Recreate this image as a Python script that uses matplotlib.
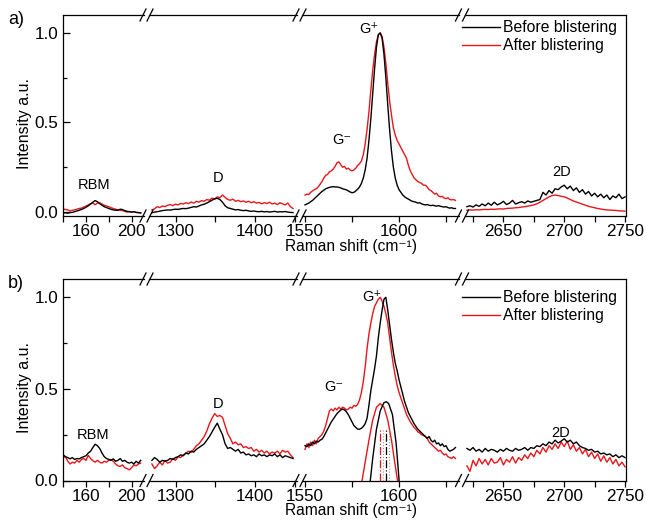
import numpy as np
import matplotlib
matplotlib.use('Agg')
import matplotlib.pyplot as plt
from matplotlib.ticker import MultipleLocator
from matplotlib.lines import Line2D

plt.rcParams['font.family'] = ['Liberation Sans', 'DejaVu Sans']

BLACK = '#000000'
RED = '#e8161b'

# x grids of the four axis segments (cm-1)
x_rbm = np.arange(140, 209, 2)
x_d = np.linspace(1270, 1448, 55)
x_g = np.arange(1550, 1631, 1)
x_2d = np.arange(2620, 2751, 2.5)

# ---- panel a) ----
before_a_rbm = [-0.005, -0.004, -0.006, -0.003, -0.002, 0.002, 0.006, 0.01, 0.015, 0.02,
                0.027, 0.035, 0.045, 0.055, 0.064, 0.058, 0.047, 0.038, 0.03, 0.025,
                0.02, 0.015, 0.012, 0.01, 0.01, 0.016, 0.014, 0.008, 0.004, 0.002,
                0.0, 0.002, -0.002, -0.003, -0.005]
after_a_rbm = [0.018, 0.014, 0.012, 0.006, 0.01, 0.012, 0.016, 0.02, 0.022, 0.028,
               0.033, 0.04, 0.046, 0.05, 0.041, 0.05, 0.052, 0.045, 0.038, 0.034,
               0.03, 0.024, 0.02, 0.016, 0.012, 0.01, 0.008, 0.004, 0.0, 0.003,
               0.0, 0.002, -0.002, -0.003, -0.004]

before_a_d = [-0.004, 0.0, 0.002, 0.005, 0.008, 0.01, 0.012, 0.011, 0.014, 0.016,
              0.015, 0.018, 0.02, 0.019, 0.022, 0.026, 0.03, 0.028, 0.034, 0.04,
              0.044, 0.05, 0.058, 0.066, 0.074, 0.077, 0.07, 0.055, 0.035, 0.024,
              0.02, 0.016, 0.012, 0.014, 0.01, 0.008, 0.01, 0.006, 0.004, 0.006,
              0.003, 0.002, 0.004, 0.001, 0.003, 0.0, 0.002, 0.004, 0.0, 0.002,
              0.001, 0.003, 0.0, -0.002, -0.003]
after_a_d = [0.012, 0.018, 0.03, 0.025, 0.034, 0.03, 0.038, 0.042, 0.036, 0.044,
             0.04, 0.048, 0.045, 0.052, 0.047, 0.056, 0.05, 0.06, 0.055, 0.064,
             0.06, 0.07, 0.066, 0.078, 0.072, 0.085, 0.08, 0.095, 0.082, 0.07,
             0.066, 0.072, 0.06, 0.065, 0.058, 0.062, 0.055, 0.06, 0.052, 0.058,
             0.05, 0.054, 0.046, 0.052, 0.048, 0.055, 0.045, 0.05, 0.042, 0.052,
             0.046, 0.04, 0.05, 0.03, 0.02]

before_a_g = [0.04, 0.045, 0.05, 0.058, 0.065, 0.075, 0.085, 0.095, 0.105, 0.115,
              0.122, 0.13, 0.134, 0.138, 0.14, 0.142, 0.14, 0.14, 0.138, 0.135,
              0.13, 0.127, 0.124, 0.118, 0.112, 0.108, 0.11, 0.118, 0.128, 0.14,
              0.16, 0.19, 0.235, 0.3, 0.4, 0.52, 0.66, 0.8, 0.92, 0.99,
              1.0, 0.97, 0.88, 0.75, 0.6, 0.46, 0.34, 0.25, 0.19, 0.15,
              0.125, 0.11, 0.095, 0.085, 0.078, 0.072, 0.066, 0.06, 0.058, 0.055,
              0.05, 0.052, 0.046, 0.042, 0.04, 0.042, 0.038, 0.036, 0.038, 0.035,
              0.033, 0.036, 0.032, 0.03, 0.028, 0.03, 0.025, 0.022, 0.024, 0.02,
              0.02]
after_a_g = [0.095, 0.1, 0.098, 0.11, 0.118, 0.125, 0.13, 0.14, 0.155, 0.17,
             0.19, 0.205, 0.21, 0.225, 0.23, 0.24, 0.255, 0.275, 0.28, 0.265,
             0.25, 0.255, 0.24, 0.245, 0.235, 0.23, 0.235, 0.245, 0.26, 0.27,
             0.285, 0.32, 0.38, 0.46, 0.56, 0.68, 0.79, 0.88, 0.95, 0.99,
             1.0, 0.98, 0.92, 0.83, 0.72, 0.62, 0.54, 0.47, 0.43, 0.4,
             0.38, 0.36, 0.34, 0.32, 0.3, 0.26, 0.23, 0.21, 0.19, 0.18,
             0.17, 0.165, 0.16, 0.15, 0.15, 0.14, 0.125, 0.12, 0.11, 0.1,
             0.105, 0.09, 0.085, 0.088, 0.078, 0.075, 0.08, 0.07, 0.068, 0.07,
             0.065]

before_a_2d = [0.03, 0.035, 0.028, 0.04, 0.032, 0.045, 0.035, 0.05, 0.038, 0.055,
               0.04, 0.048, 0.06, 0.042, 0.05, 0.065, 0.045, 0.052, 0.058, 0.05,
               0.062, 0.055, 0.06, 0.065, 0.07, 0.11, 0.095, 0.12, 0.105, 0.13,
               0.125, 0.14, 0.15, 0.13, 0.145, 0.12, 0.135, 0.11, 0.125, 0.1,
               0.115, 0.09, 0.105, 0.085, 0.1, 0.08, 0.095, 0.07, 0.09, 0.08,
               0.1, 0.075, 0.085]
after_a_2d = [0.01, 0.012, 0.011, 0.013, 0.012, 0.014, 0.015, 0.014, 0.016, 0.015,
              0.017, 0.018, 0.017, 0.02, 0.021, 0.022, 0.024, 0.025, 0.028, 0.03,
              0.033, 0.036, 0.04, 0.046, 0.055, 0.065, 0.075, 0.085, 0.092, 0.095,
              0.092, 0.088, 0.085, 0.078, 0.07, 0.062, 0.056, 0.05, 0.044, 0.038,
              0.032, 0.028, 0.024, 0.02, 0.017, 0.014, 0.012, 0.011, 0.01, 0.009,
              0.007, 0.006, 0.005]

# ---- panel b) ----
before_b_rbm = [0.14, 0.13, 0.125, 0.118, 0.125, 0.115, 0.12, 0.118, 0.125, 0.13,
                0.135, 0.15, 0.16, 0.18, 0.198, 0.19, 0.175, 0.15, 0.13, 0.12,
                0.115, 0.11, 0.118, 0.105, 0.11, 0.12, 0.105, 0.11, 0.1, 0.095,
                0.1, 0.09, 0.105, 0.095, 0.11]
after_b_rbm = [0.125, 0.13, 0.105, 0.09, 0.1, 0.095, 0.11, 0.1, 0.115, 0.12,
               0.11, 0.137, 0.12, 0.108, 0.1, 0.11, 0.1, 0.095, 0.105, 0.1,
               0.11, 0.115, 0.105, 0.09, 0.08, 0.077, 0.085, 0.07, 0.065, 0.058,
               0.07, 0.085, 0.08, 0.09, 0.095]

before_b_d = [0.11, 0.125, 0.115, 0.1, 0.11, 0.105, 0.11, 0.12, 0.115, 0.125,
              0.13, 0.14, 0.135, 0.15, 0.145, 0.16, 0.155, 0.17, 0.18, 0.19,
              0.2, 0.22, 0.24, 0.265, 0.29, 0.313, 0.28, 0.25, 0.2, 0.175,
              0.18, 0.17, 0.16, 0.17, 0.15, 0.155, 0.14, 0.145, 0.135, 0.14,
              0.13, 0.145, 0.135, 0.14, 0.13, 0.14, 0.135, 0.145, 0.13, 0.14,
              0.125, 0.135, 0.13, 0.125, 0.12]
after_b_d = [0.09, 0.065, 0.08, 0.1, 0.085, 0.11, 0.095, 0.1, 0.12, 0.11,
             0.13, 0.125, 0.14, 0.15, 0.16, 0.155, 0.17, 0.19, 0.2, 0.22,
             0.24, 0.27, 0.31, 0.34, 0.365, 0.35, 0.355, 0.345, 0.3, 0.255,
             0.23, 0.2, 0.21, 0.195, 0.2, 0.18, 0.185, 0.175, 0.18, 0.16,
             0.17, 0.155, 0.165, 0.15, 0.16, 0.145, 0.155, 0.15, 0.16, 0.145,
             0.165, 0.155, 0.16, 0.14, 0.125]

before_b_g = [0.19, 0.185, 0.2, 0.19, 0.21, 0.2, 0.215, 0.21, 0.22, 0.225,
              0.24, 0.26, 0.28, 0.3, 0.32, 0.335, 0.35, 0.365, 0.375, 0.385,
              0.39, 0.385, 0.375, 0.36, 0.34, 0.32, 0.3, 0.29, 0.28, 0.28,
              0.285, 0.295, 0.31, 0.34, 0.41, 0.49, 0.55, 0.61, 0.68, 0.78,
              0.86, 0.93, 0.99, 1.0, 0.93, 0.85, 0.77, 0.7, 0.64, 0.6,
              0.55, 0.51, 0.47, 0.43, 0.4, 0.37, 0.35, 0.33, 0.31, 0.295,
              0.28, 0.27, 0.26, 0.25, 0.24, 0.23, 0.24, 0.22, 0.21, 0.22,
              0.2, 0.205, 0.19, 0.2, 0.185, 0.19, 0.17, 0.16, 0.165, 0.17,
              0.18]
after_b_g = [0.17, 0.2, 0.18, 0.21, 0.19, 0.22, 0.2, 0.23, 0.24, 0.25,
             0.27, 0.3, 0.34, 0.38, 0.39, 0.38, 0.395, 0.385, 0.4, 0.39,
             0.4, 0.395, 0.385, 0.39, 0.4, 0.395, 0.41, 0.405, 0.415, 0.44,
             0.48, 0.54, 0.62, 0.72, 0.8, 0.86, 0.91, 0.95, 0.97, 0.99,
             1.0, 0.98, 0.95, 0.91, 0.86, 0.78, 0.7, 0.63, 0.57, 0.52,
             0.48, 0.45, 0.42, 0.39, 0.36, 0.34, 0.32, 0.305, 0.29, 0.28,
             0.265, 0.26, 0.25, 0.245, 0.24, 0.23, 0.21, 0.2, 0.19, 0.18,
             0.17, 0.16, 0.165, 0.15, 0.14, 0.145, 0.13, 0.125, 0.12, 0.13,
             0.12]

before_b_2d = [0.175, 0.165, 0.18, 0.16, 0.17, 0.155, 0.175, 0.16, 0.17, 0.165,
               0.155, 0.17, 0.16, 0.175, 0.165, 0.16, 0.175, 0.165, 0.17, 0.18,
               0.165, 0.18, 0.175, 0.19, 0.185, 0.2, 0.19, 0.21, 0.2, 0.22,
               0.205, 0.215, 0.228, 0.21, 0.22, 0.2, 0.21, 0.19, 0.18, 0.175,
               0.165, 0.17, 0.155, 0.16, 0.145, 0.15, 0.14, 0.145, 0.13, 0.14,
               0.125, 0.135, 0.125]
after_b_2d = [0.08, 0.05, 0.11, 0.08, 0.12, 0.09, 0.115, 0.085, 0.12, 0.095,
              0.1, 0.125, 0.085, 0.115, 0.1, 0.13, 0.095, 0.125, 0.11, 0.14,
              0.12, 0.15, 0.13, 0.165, 0.145, 0.18, 0.155, 0.19, 0.17, 0.2,
              0.175, 0.21, 0.185, 0.215, 0.17, 0.195, 0.16, 0.18, 0.145, 0.17,
              0.13, 0.155, 0.12, 0.145, 0.105, 0.135, 0.1, 0.125, 0.09, 0.115,
              0.08, 0.1, 0.075]

# fitted G+ components in panel b)
fit_before_x = [1584.5, 1586, 1588, 1590, 1592, 1593.3, 1594.5, 1596.5, 1598.5, 1600.2]
fit_before_y = [-0.02, 0.12, 0.28, 0.38, 0.425, 0.43, 0.42, 0.36, 0.2, -0.02]
fit_after_x = [1580, 1582, 1584, 1586, 1588, 1590, 1592, 1594, 1596, 1598, 1599.5]
fit_after_y = [-0.02, 0.1, 0.22, 0.33, 0.4, 0.42, 0.4, 0.33, 0.22, 0.08, -0.02]
fit_centers = [1590, 1593.3]

seg_x = [x_rbm, x_d, x_g, x_2d]
panels = {
    'a': ([before_a_rbm, before_a_d, before_a_g, before_a_2d],
          [after_a_rbm, after_a_d, after_a_g, after_a_2d]),
    'b': ([before_b_rbm, before_b_d, before_b_g, before_b_2d],
          [after_b_rbm, after_b_d, after_b_g, after_b_2d]),
}

W, H = 646, 526
fig = plt.figure(figsize=(W / 100, H / 100), dpi=100)

seg_px = [(63, 144), (149, 297), (302, 459), (465, 626)]
seg_lims = [(139.8, 210.9), (1266.3, 1453), (1548.4, 1631.9), (2618.4, 2750.8)]
seg_major = [40, 100, 50, 50]
seg_minor = [20, 50, 25, 25]
breaks_px = [146.5, 299.5, 462]

# top px, bottom px, ylim, legend top px
panel_geo = {'a': (15, 216, (-0.022, 1.1), 20),
             'b': (279, 480.5, (0.0, 1.1), 290)}


def fx(px):
    return px / W


def fy(py):
    return 1 - py / H


def draw_break(xc, yc):
    for off in (-3.5, 3.5):
        fig.add_artist(Line2D([fx(xc + off - 3), fx(xc + off + 3)],
                              [fy(yc + 6), fy(yc - 6)],
                              transform=fig.transFigure, color='black', lw=0.9))


for name, (ytop, ybot, ylim, leg_top) in panel_geo.items():
    before, after = panels[name]
    axes = []
    for i, (x0, x1) in enumerate(seg_px):
        ax = fig.add_axes([fx(x0), fy(ybot), (x1 - x0) / W, (ybot - ytop) / H])
        ax.plot(seg_x[i], after[i], color=RED, lw=1.0)
        ax.plot(seg_x[i], before[i], color=BLACK, lw=1.0)
        ax.set_xlim(*seg_lims[i])
        ax.set_ylim(*ylim)
        ax.xaxis.set_major_locator(MultipleLocator(seg_major[i]))
        ax.xaxis.set_minor_locator(MultipleLocator(seg_minor[i]))
        ax.tick_params(axis='x', which='both', direction='out', labelsize=12.3, pad=1.5,
                       length=4.5, width=0.9)
        if i > 0:
            ax.spines['left'].set_visible(False)
            ax.set_yticks([])
        if i < 3:
            ax.spines['right'].set_visible(False)
        for sp in ax.spines.values():
            sp.set_linewidth(0.9)
        axes.append(ax)

    ax0 = axes[0]
    ax0.yaxis.set_major_locator(MultipleLocator(0.5))
    ax0.yaxis.set_minor_locator(MultipleLocator(0.25))
    ax0.tick_params(axis='y', which='both', direction='in', labelsize=12.3, width=0.9)
    ax0.tick_params(axis='y', which='major', length=5)
    ax0.tick_params(axis='y', which='minor', length=3)

    if name == 'b':
        axg = axes[2]
        axg.plot(fit_after_x, fit_after_y, color=RED, lw=1.0)
        axg.plot(fit_before_x, fit_before_y, color=BLACK, lw=1.0)
        axg.plot([fit_centers[0]] * 2, [0, 0.28], color=RED, lw=0.9, ls='-.')
        axg.plot([fit_centers[0] + 1.5] * 2, [0, 0.28], color='#999999', lw=0.8, ls=':')
        axg.plot([fit_centers[1]] * 2, [0, 0.28], color=BLACK, lw=0.9, ls='-.')
        axg.plot([fit_centers[1] + 1.5] * 2, [0, 0.28], color='#999999', lw=0.8, ls=':')

    for xb in breaks_px:
        draw_break(xb, ytop)
        draw_break(xb, ybot)

    handles = [Line2D([], [], color=BLACK, lw=1.0), Line2D([], [], color=RED, lw=1.0)]
    fig.legend(handles, ['Before blistering', 'After blistering'], loc='upper left',
               bbox_to_anchor=(fx(462), fy(leg_top)), bbox_transform=fig.transFigure,
               frameon=False, fontsize=11.3, borderpad=0, borderaxespad=0,
               handlelength=2.4, handletextpad=0.2, labelspacing=0.2)

    fig.text(fx(25), fy((ytop + ybot) / 2 + 8), 'Intensity a.u.', rotation=90,
             ha='center', va='center', fontsize=11.5)
    fig.text(fx(351), fy(ybot + 30.5), 'Raman shift (cm⁻¹)', ha='center',
             va='center', fontsize=11.2)
    fig.text(fx(16), fy(ytop + 5), name + ')', ha='center', va='center', fontsize=13)

# peak labels (figure pixel positions)
peak_labels = {
    'a': [('RBM', 94, 185), ('D', 218, 178), ('G⁻', 342, 140),
          ('G⁺', 369, 29), ('2D', 562, 172)],
    'b': [('RBM', 93, 435), ('D', 218, 404), ('G⁻', 334, 387),
          ('G⁺', 372, 297), ('2D', 561, 433)],
}
for name, labels in peak_labels.items():
    for txt, px, py in labels:
        fig.text(fx(px), fy(py), txt, ha='center', va='center', fontsize=10.5)

fig.savefig('out.png', dpi=100)
